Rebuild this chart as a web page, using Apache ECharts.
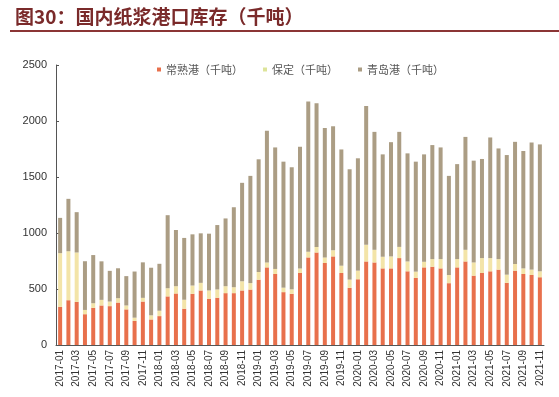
<!DOCTYPE html>
<html>
<head>
<meta charset="utf-8">
<script src="https://cdn.jsdelivr.net/npm/echarts@6/dist/echarts.min.js"></script>
<style>
html, body { margin: 0; padding: 0; background: #fff; }
#chart { width: 559px; height: 397px; }
</style>
</head>
<body>
<div id="chart"></div>
<script>
// 月份 2017-01 ~ 2021-11
var months = [
  '2017-01','2017-02','2017-03','2017-04','2017-05','2017-06','2017-07','2017-08','2017-09','2017-10','2017-11','2017-12',
  '2018-01','2018-02','2018-03','2018-04','2018-05','2018-06','2018-07','2018-08','2018-09','2018-10','2018-11','2018-12',
  '2019-01','2019-02','2019-03','2019-04','2019-05','2019-06','2019-07','2019-08','2019-09','2019-10','2019-11','2019-12',
  '2020-01','2020-02','2020-03','2020-04','2020-05','2020-06','2020-07','2020-08','2020-09','2020-10','2020-11','2020-12',
  '2021-01','2021-02','2021-03','2021-04','2021-05','2021-06','2021-07','2021-08','2021-09','2021-10','2021-11'
]
// 常熟港（千吨）
var changshu = [
  340, 400, 385, 275, 332, 353, 347, 379, 318, 215, 388, 228,
  258, 434, 460, 324, 457, 487, 413, 422, 463, 463, 487, 495,
  583, 693, 634, 472, 457, 643, 782, 826, 732, 791, 643, 510,
  587, 746, 737, 684, 684, 776, 658, 599, 693, 699, 684, 552,
  693, 746, 619, 643, 658, 673, 555, 664, 634, 625, 605
]
// 保定（千吨）
var baoding = [
  480, 437, 441, 38, 41, 50, 41, 39, 35, 29, 33, 37,
  48, 73, 65, 80, 74, 68, 74, 74, 62, 53, 82, 58,
  69, 44, 45, 40, 40, 40, 50, 50, 50, 55, 65, 74,
  77, 148, 113, 104, 107, 100, 88, 56, 50, 68, 83, 73,
  74, 104, 118, 133, 118, 94, 73, 59, 50, 48, 53
]
// 青岛港（千吨）
var qingdao = [
  315, 468, 360, 435, 430, 344, 274, 267, 262, 412, 317, 425,
  419, 652, 502, 552, 457, 442, 507, 575, 605, 714, 879, 957,
  1006, 1175, 1085, 1125, 1090, 1087, 1342, 1283, 1156, 1107, 1038, 985,
  1003, 1239, 1053, 914, 1020, 1027, 965, 982, 959, 1018, 997, 885,
  848, 1008, 909, 885, 1077, 988, 1068, 1091, 1048, 1135, 1133
]
var seriesNames = ['常熟港（千吨）', '保定（千吨）', '青岛港（千吨）']
var colors = ['#e8704c', '#f3e4a8', '#ab9d84']

var chart = echarts.init(document.getElementById('chart'))
chart.setOption({
  animation: false,
  color: colors,
  title: {
    text: '图30：国内纸浆港口库存（千吨）',
    left: 10,
    top: 2,
    textStyle: { color: '#7a2a2a', fontSize: 19, fontWeight: 'bold', fontFamily: 'Noto Sans CJK SC' }
  },
  graphic: [{
    type: 'rect',
    shape: { x: 10, y: 30, width: 549, height: 2 },
    style: { fill: '#8b3535' }
  }],
  legend: {
    top: 59,
    left: 152,
    itemWidth: 4,
    itemHeight: 4,
    itemGap: 20,
    icon: 'rect',
    textStyle: { color: '#555', fontSize: 11, fontFamily: 'Noto Sans CJK SC' },
    data: [
      { name: seriesNames[0], itemStyle: { color: '#e8704c' } },
      { name: seriesNames[1], itemStyle: { color: '#dde49a' } },
      { name: seriesNames[2], itemStyle: { color: '#ab9d84' } }
    ]
  },
  grid: { left: 56, right: 15, top: 65, bottom: 52 },
  xAxis: {
    type: 'category',
    data: months,
    axisLine: { lineStyle: { color: '#555' } },
    axisTick: { inside: true, length: 3, lineStyle: { color: '#555' } },
    axisLabel: { rotate: 90, interval: 1, color: '#333', fontSize: 10, fontFamily: 'Liberation Sans', margin: 5 }
  },
  yAxis: {
    type: 'value',
    min: 0,
    max: 2500,
    interval: 500,
    splitLine: { show: false },
    axisLine: { show: true, lineStyle: { color: '#555' } },
    axisTick: { show: true, inside: true, length: 3, lineStyle: { color: '#555' } },
    axisLabel: {
      color: '#333', fontSize: 11, fontFamily: 'Liberation Sans', margin: 9,
      formatter: function (v) { return String(v) }
    }
  },
  series: [
    { name: seriesNames[0], type: 'bar', stack: 'total', barWidth: 4, data: changshu },
    { name: seriesNames[1], type: 'bar', stack: 'total', barWidth: 4, data: baoding },
    { name: seriesNames[2], type: 'bar', stack: 'total', barWidth: 4, data: qingdao }
  ]
})
</script>
</body>
</html>
